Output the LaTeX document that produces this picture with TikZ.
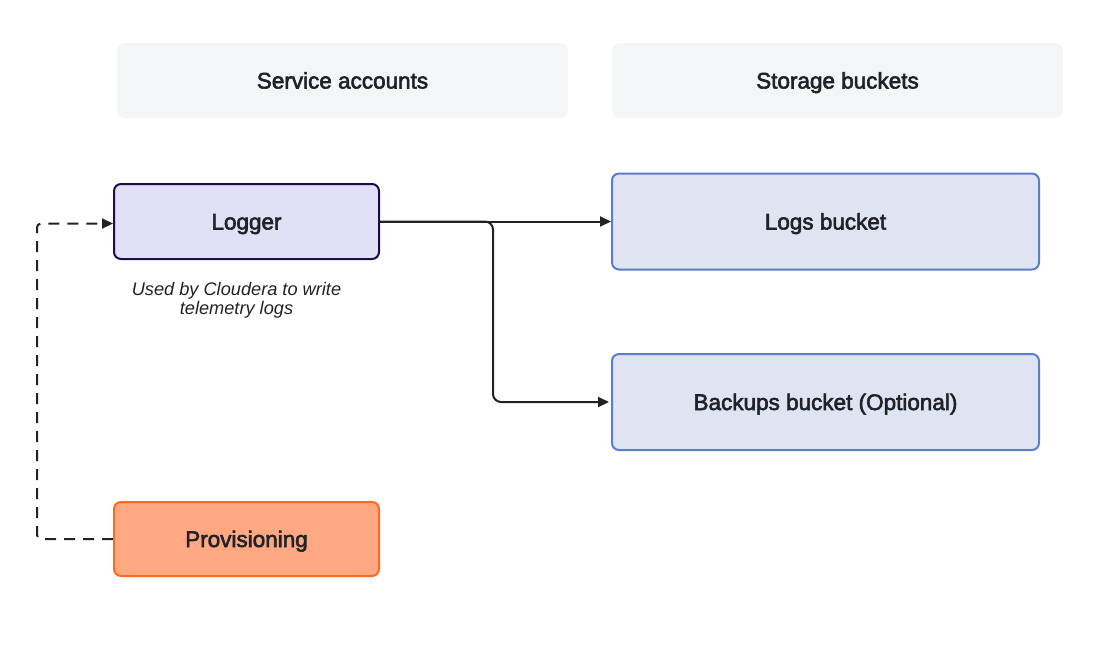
\documentclass[tikz,border=0pt]{standalone}
\usepackage{fontspec}
\setmainfont{Liberation Sans}
\newfontfamily\medfont[FakeBold=2.6]{Liberation Sans}
\usetikzlibrary{arrows.meta}
\definecolor{txt}{HTML}{1F2328}
\definecolor{hdrfill}{HTML}{F4F5F7}
\definecolor{logfill}{HTML}{E2E0F6}
\definecolor{logdraw}{HTML}{1C0C4C}
\definecolor{provfill}{HTML}{FFA882}
\definecolor{provdraw}{HTML}{FF6A21}
\definecolor{bktfill}{HTML}{DEE4F2}
\definecolor{bktdraw}{HTML}{5B7EC8}
\tikzset{
  lbl/.style={text=txt, font=\medfont\fontsize{22.5}{26}\selectfont, text height=16pt, text depth=0pt},
  hdr/.style={lbl, fill=hdrfill, draw=none, rounded corners=8pt, minimum width=451pt, minimum height=75pt, inner sep=0pt},
  box/.style={lbl, line width=2pt, rounded corners=7pt, inner sep=0pt},
  conn/.style={line width=2pt, draw=txt, -{Triangle[length=11pt,width=10pt]}},
  dconn/.style={conn, dash pattern=on 11pt off 8pt}
}
\begin{document}
\begin{tikzpicture}[x=1pt,y=-1pt]
\useasboundingbox (0,0) rectangle (1100,654);
\node[hdr] (sa) at (342.5,80.5) {Service accounts};
\node[hdr] (sb) at (837.5,80.5) {Storage buckets};
\node[box, fill=logfill, draw=logdraw, minimum width=265pt, minimum height=75pt] (logger) at (246.5,221.5) {Logger};
\node[box, fill=provfill, draw=provdraw, minimum width=265pt, minimum height=74pt] (prov) at (246.5,539) {Provisioning};
\node[box, fill=bktfill, draw=bktdraw, minimum width=427pt, minimum height=96pt] (logs) at (825.5,221.5) {Logs bucket};
\node[box, fill=bktfill, draw=bktdraw, minimum width=427pt, minimum height=96pt] (backups) at (825.5,402) {Backups bucket (Optional)};
\node[text=txt, align=center, font=\itshape\fontsize{18.2}{19}\selectfont, inner sep=0pt] (cap) at (236.5,300) {Used by Cloudera to write\\telemetry logs};
\coordinate (turn) at (493,300);
\coordinate (dturn) at (37,380);
\draw[conn] (logger.east) -- (logs.west);
\draw[conn, rounded corners=8pt, shorten >=2pt] (logger.east) -| (turn) |- (backups.west);
\draw[dconn, rounded corners=4pt] (prov.west) -| (dturn) |- ([yshift=-2pt]logger.west);
\end{tikzpicture}
\end{document}
